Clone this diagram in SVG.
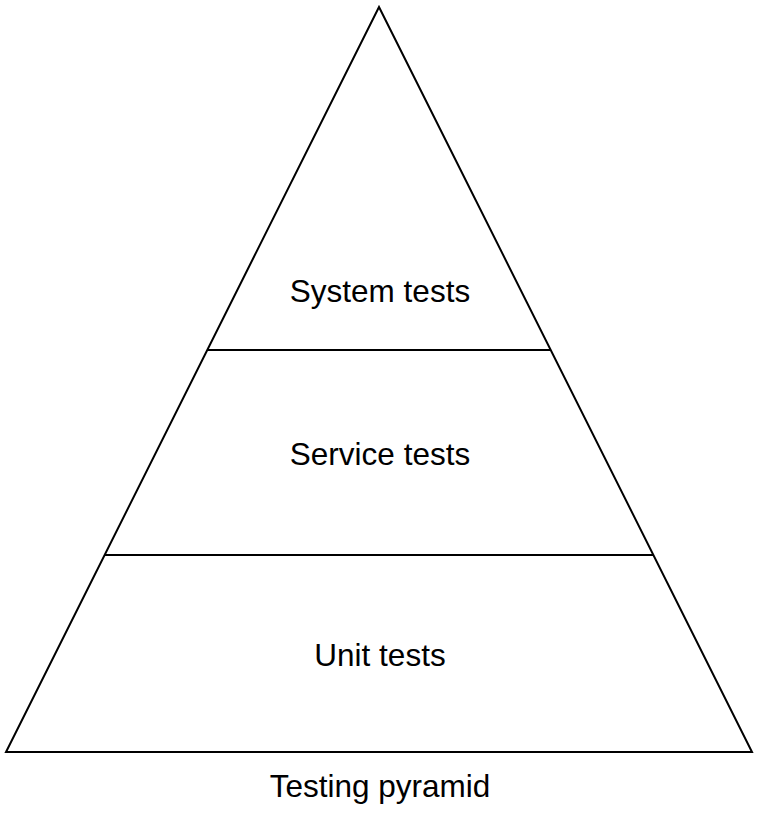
<svg xmlns="http://www.w3.org/2000/svg" width="761" height="822" viewBox="0 0 761 822">
<style>
.shape{fill:none;stroke:#000;stroke-width:2;stroke-linejoin:miter}
.lbl{font-family:"Liberation Sans",Arial,sans-serif;font-size:31.5px;fill:#000;text-anchor:middle}
</style>
<rect width="761" height="822" fill="#fff"/>
<g id="pyramid">
<polygon class="shape" points="379,7 752,752 6,752"/>
</g>
<g id="connectors">
<line class="shape" x1="207.5" y1="350" x2="550.5" y2="350"/>
<line class="shape" x1="104.6" y1="555" x2="653.4" y2="555"/>
</g>
<g id="system-tests"><text class="lbl" x="380" y="302">System tests</text></g>
<g id="service-tests"><text class="lbl" x="380" y="465">Service tests</text></g>
<g id="unit-tests"><text class="lbl" x="380" y="666">Unit tests</text></g>
<g id="caption"><text class="lbl" x="380" y="797">Testing pyramid</text></g>
</svg>
